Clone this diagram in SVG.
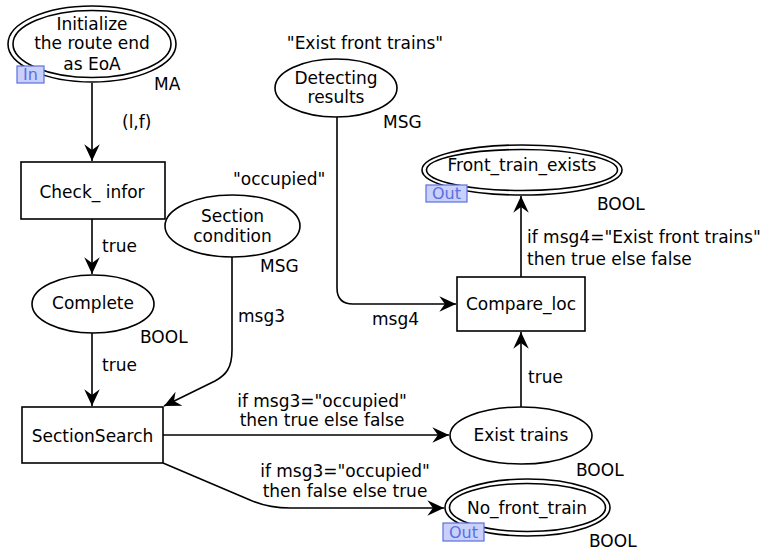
<svg xmlns="http://www.w3.org/2000/svg" width="767" height="551" viewBox="0 0 767 551">
<style>
text{font-family:"DejaVu Sans",Verdana,sans-serif;font-size:17px;fill:#000}
.c{text-anchor:middle}
.s{fill:#fff;stroke:#000;stroke-width:1.6}
.e{fill:none;stroke:#000;stroke-width:1.6}
.port{fill:#c9d1fb;stroke:#5a6fe0;stroke-width:1.2}
.pt{fill:#5a6fe0;font-size:16px}
</style>
<defs>
<marker id="a" markerUnits="userSpaceOnUse" markerWidth="20" markerHeight="20" viewBox="-16 -8 18 16" refX="0" refY="0" orient="auto">
<path d="M0,0 L-15,-7 L-10,0 L-15,7 Z" fill="#000"/>
</marker>
</defs>
<g id="connectors">
<path class="e" d="M92,83 L92,161" marker-end="url(#a)"/>
<path class="e" d="M92,219 L92,274" marker-end="url(#a)"/>
<path class="e" d="M92,333 L92,406" marker-end="url(#a)"/>
<path class="e" d="M232,257 L232,350 C232,368 226,375 215,381 L164,406" marker-end="url(#a)"/>
<path class="e" d="M163,435 L449,435" marker-end="url(#a)"/>
<path class="e" d="M163,463 L250,500 Q268,508 290,508 L444,508" marker-end="url(#a)"/>
<path class="e" d="M521,407 L521,332" marker-end="url(#a)"/>
<path class="e" d="M337,117 L337,288 Q337,304 353,304 L456,304" marker-end="url(#a)"/>
<path class="e" d="M521,277 L521,196" marker-end="url(#a)"/>
<text x="122" y="128">(l,f)</text>
<text x="102" y="252">true</text>
<text x="102" y="371">true</text>
<text x="238" y="322">msg3</text>
<text x="322" y="407" class="c">if msg3="occupied"</text>
<text x="322" y="426" class="c">then true else false</text>
<text x="345" y="477" class="c">if msg3="occupied"</text>
<text x="345" y="497" class="c">then false else true</text>
<text x="528" y="383">true</text>
<text x="372" y="325">msg4</text>
<text x="527" y="243">if msg4="Exist front trains"</text>
<text x="527" y="265">then true else false</text>
</g>
<g id="init">
<ellipse class="s" cx="92" cy="44" rx="84" ry="38"/>
<ellipse class="s" cx="92" cy="44" rx="79" ry="33.5"/>
<text x="92" y="30" class="c">Initialize</text>
<text x="92" y="49" class="c">the route end</text>
<text x="92" y="70" class="c">as EoA</text>
<rect class="port" x="17" y="66" width="27" height="17"/>
<text x="30.5" y="80" class="c pt">In</text>
<text x="154" y="90">MA</text>
</g>
<g id="check">
<rect class="s" x="21" y="162" width="144" height="57"/>
<text x="92" y="198" class="c">Check_ infor</text>
</g>
<g id="section_condition">
<ellipse class="s" cx="232.5" cy="226" rx="67.5" ry="31"/>
<text x="232.5" y="222" class="c">Section</text>
<text x="232.5" y="242" class="c">condition</text>
<text x="233" y="185">"occupied"</text>
<text x="260" y="272">MSG</text>
</g>
<g id="complete">
<ellipse class="s" cx="93" cy="304" rx="61" ry="29"/>
<text x="93" y="309" class="c">Complete</text>
<text x="140" y="343">BOOL</text>
</g>
<g id="section_search">
<rect class="s" x="22" y="407" width="141" height="56"/>
<text x="92.5" y="442" class="c">SectionSearch</text>
</g>
<g id="exist_trains">
<ellipse class="s" cx="521" cy="435.5" rx="71" ry="28.5"/>
<text x="521" y="441" class="c">Exist trains</text>
<text x="576" y="476">BOOL</text>
</g>
<g id="no_front_train">
<ellipse class="s" cx="527.5" cy="507.5" rx="82.5" ry="28.5"/>
<ellipse class="s" cx="527.5" cy="507.5" rx="78" ry="24"/>
<text x="527" y="514" class="c">No_front_train</text>
<rect class="port" x="443" y="523" width="41" height="18"/>
<text x="463.5" y="538" class="c pt">Out</text>
<text x="589" y="547">BOOL</text>
</g>
<g id="compare_loc">
<rect class="s" x="457" y="277" width="128" height="54"/>
<text x="521" y="310" class="c">Compare_loc</text>
</g>
<g id="detecting">
<ellipse class="s" cx="336" cy="88" rx="61" ry="29"/>
<text x="336" y="84" class="c">Detecting</text>
<text x="336" y="103" class="c">results</text>
<text x="365" y="49" class="c">"Exist front trains"</text>
<text x="383" y="128">MSG</text>
</g>
<g id="front_train_exists">
<ellipse class="s" cx="522" cy="170" rx="100" ry="25"/>
<ellipse class="s" cx="522" cy="170" rx="95.5" ry="20.5"/>
<text x="522" y="171" class="c">Front_train_exists</text>
<rect class="port" x="426" y="185" width="41" height="17"/>
<text x="446.5" y="199" class="c pt">Out</text>
<text x="597" y="210">BOOL</text>
</g>
</svg>
